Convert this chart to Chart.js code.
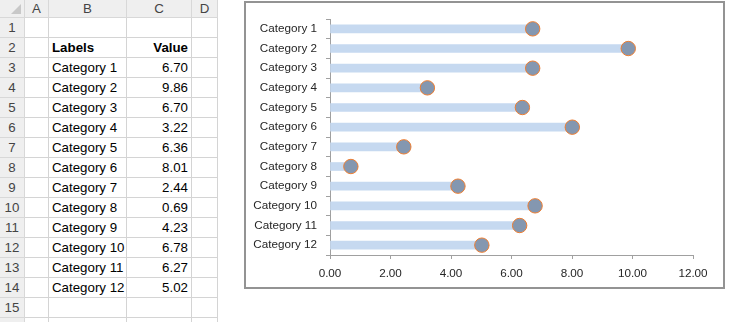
<!DOCTYPE html>
<html>
<head>
    <title>Lollipop Chart</title>
    <script src="https://cdn.jsdelivr.net/npm/chart.js"></script>
    <style>
        body { margin: 0; background: #fff; font-family: "Liberation Sans", Arial, sans-serif; }
        #sheet { position: absolute; left: 0; top: 0; width: 219px; height: 322px; }
        .cell { position: absolute; box-sizing: border-box; border-right: 1px solid #d4d4d4; border-bottom: 1px solid #d4d4d4;
                font-size: 13.3px; color: #000; line-height: 19px; padding: 0 3px; white-space: nowrap; overflow: hidden; }
        .hdr { background: #efefef; color: #444; text-align: center; border-color: #d8d8d8; }
        .rowhdr { background: #efefef; color: #444; text-align: center; border-color: #d8d8d8; }
        .num { text-align: right; }
        .bold { font-weight: bold; }
        #chartBox { position: absolute; left: 244px; top: 1px; width: 481px; height: 288px; box-sizing: border-box;
                    border: 2px solid #939393; background: #fff; }
        #chartWrap { position: absolute; left: 0; top: 0; width: 477px; height: 284px; }
    </style>
</head>
<body>
    <div id="sheet"></div>
    <div id="chartBox"><div id="chartWrap"><canvas id="lollipop"></canvas></div></div>

    <script>
        var labels = ['Category 1', 'Category 2', 'Category 3', 'Category 4', 'Category 5', 'Category 6',
                      'Category 7', 'Category 8', 'Category 9', 'Category 10', 'Category 11', 'Category 12'];
        var values = [6.70, 9.86, 6.70, 3.22, 6.36, 8.01, 2.44, 0.69, 4.23, 6.78, 6.27, 5.02];
        var columnNames = ['A', 'B', 'C', 'D'];
        var headerRow = ['Labels', 'Value'];

        // worksheet grid: row header column + columns A..D
        var colX = [0, 25, 49, 127, 192, 218];
        var rowH = 20, headH = 18, rowCount = 16;
        var sheet = document.getElementById('sheet');

        function addCell(x, y, w, h, text, cls) {
            var d = document.createElement('div');
            d.className = 'cell ' + (cls || '');
            d.style.left = x + 'px';
            d.style.top = y + 'px';
            d.style.width = w + 'px';
            d.style.height = h + 'px';
            d.textContent = text || '';
            sheet.appendChild(d);
            return d;
        }

        var corner = addCell(0, 0, colX[1], headH, '', 'hdr');
        corner.innerHTML = '<div style="position:absolute;right:3px;bottom:3px;width:0;height:0;border-left:10px solid transparent;border-bottom:10px solid #c8c8c8"></div>';
        for (var c = 0; c < columnNames.length; c++) {
            addCell(colX[c + 1], 0, colX[c + 2] - colX[c + 1], headH, columnNames[c], 'hdr').style.lineHeight = '17px';
        }
        for (var r = 0; r < rowCount; r++) {
            var y = headH + r * rowH;
            addCell(0, y, colX[1], rowH, String(r + 1), 'rowhdr');
            var texts = ['', '', '', ''];
            var cls = ['', '', 'num', ''];
            if (r === 1) { texts[1] = headerRow[0]; texts[2] = headerRow[1]; cls[1] = 'bold'; cls[2] = 'num bold'; }
            if (r >= 2 && r - 2 < labels.length) { texts[1] = labels[r - 2]; texts[2] = values[r - 2].toFixed(2); }
            for (var c = 0; c < 4; c++) {
                addCell(colX[c + 1], y, colX[c + 2] - colX[c + 1], rowH, texts[c], cls[c]);
            }
        }

        var tickFont = { family: '"Liberation Sans", Arial, sans-serif', size: 11.7 };

        new Chart(document.getElementById('lollipop'), {
            type: 'bar',
            data: {
                labels: labels,
                datasets: [{
                    type: 'line',
                    data: values,
                    showLine: false,
                    pointRadius: 7.2,
                    pointHoverRadius: 7.2,
                    pointBackgroundColor: '#8497b0',
                    pointBorderColor: '#ed7d31',
                    pointBorderWidth: 1,
                    order: 0
                }, {
                    data: values,
                    backgroundColor: '#c6d9f0',
                    barThickness: 8,
                    order: 1
                }]
            },
            options: {
                indexAxis: 'y',
                responsive: true,
                maintainAspectRatio: false,
                animation: false,
                layout: { padding: { left: 0, top: 11, right: 30, bottom: 0 } },
                plugins: { legend: { display: false }, tooltip: { enabled: false } },
                scales: {
                    x: {
                        min: 0,
                        max: 12,
                        ticks: {
                            stepSize: 2,
                            color: '#262626',
                            font: tickFont,
                            padding: 8,
                            callback: function(v) { return v.toFixed(2); }
                        },
                        grid: { drawOnChartArea: false, drawTicks: true, tickLength: 4, color: '#a0a0a0' },
                        border: { color: '#a0a0a0', width: 1 },
                        afterFit: function(scale) { scale.height = 32; }
                    },
                    y: {
                        ticks: { color: '#262626', font: tickFont, padding: 9 },
                        grid: { drawOnChartArea: false, drawTicks: true, tickLength: 4, offset: true, color: '#a0a0a0' },
                        border: { color: '#a0a0a0', width: 1 },
                        afterFit: function(scale) { scale.width = 84; }
                    }
                }
            }
        });
    </script>
</body>
</html>
